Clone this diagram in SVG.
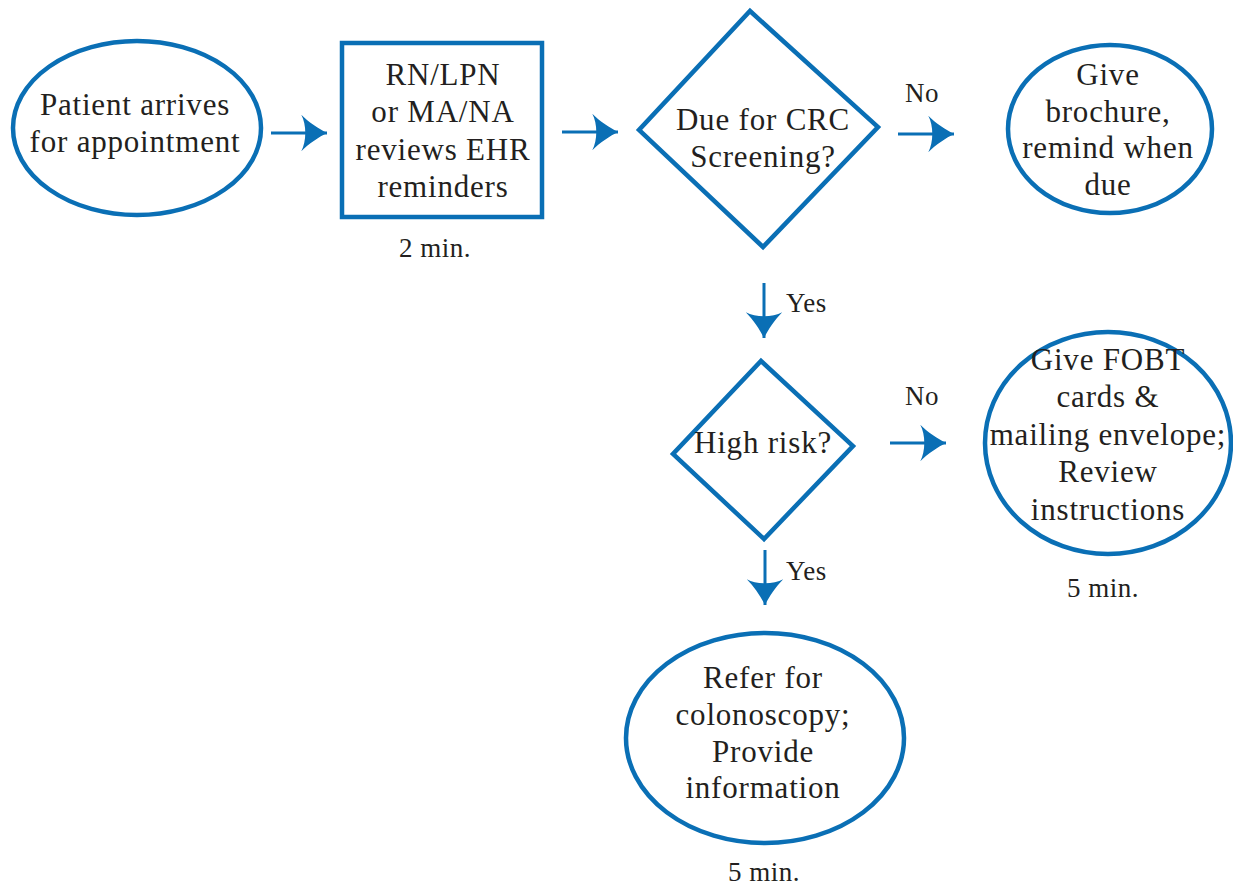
<svg xmlns="http://www.w3.org/2000/svg" width="1233" height="885" viewBox="0 0 1233 885">
<defs>
<style>
.shape{fill:#fff;stroke:#0a6fb5;stroke-width:4.5}
.t{font-family:"Liberation Serif","Times New Roman",serif;font-size:31px;letter-spacing:0.8px;fill:#231f20;text-anchor:middle}
.lbl{font-family:"Liberation Serif","Times New Roman",serif;font-size:27px;letter-spacing:0.5px;fill:#231f20}
.c{stroke:#0a6fb5;stroke-width:3;fill:none}
</style>
<marker id="ah" markerUnits="userSpaceOnUse" markerWidth="30" markerHeight="40" viewBox="-26 -18 28 36" refX="0" refY="0" orient="auto">
<path d="M0,0 C-8,-4 -17,-10 -24,-17 C-19,-8 -19,8 -24,17 C-17,10 -8,4 0,0 Z" fill="#0a6fb5"/>
</marker>
</defs>
<rect width="1233" height="885" fill="#fff"/>
<g id="connectors">
<line class="c" x1="271" y1="133" x2="327" y2="133" marker-end="url(#ah)"/>
<line class="c" x1="562" y1="132" x2="618" y2="132" marker-end="url(#ah)"/>
<line class="c" x1="898" y1="134" x2="954" y2="134" marker-end="url(#ah)"/>
<line class="c" x1="764" y1="283" x2="764" y2="338" marker-end="url(#ah)"/>
<line class="c" x1="890" y1="443" x2="946" y2="443" marker-end="url(#ah)"/>
<line class="c" x1="765" y1="550" x2="765" y2="605" marker-end="url(#ah)"/>
<text class="lbl" x="922" y="102" text-anchor="middle">No</text>
<text class="lbl" x="786" y="312">Yes</text>
<text class="lbl" x="922" y="405" text-anchor="middle">No</text>
<text class="lbl" x="786" y="580">Yes</text>
</g>
<g id="n1">
<ellipse class="shape" cx="137" cy="128" rx="124" ry="87"/>
<text class="t" x="135" y="115">Patient arrives</text>
<text class="t" x="135" y="152">for appointment</text>
</g>
<g id="n2">
<rect class="shape" x="342" y="43" width="200" height="174"/>
<text class="t" x="443" y="85">RN/LPN</text>
<text class="t" x="443" y="122">or MA/NA</text>
<text class="t" x="443" y="160">reviews EHR</text>
<text class="t" x="443" y="197">reminders</text>
<text class="lbl" x="435" y="257" text-anchor="middle">2 min.</text>
</g>
<g id="n3">
<polygon class="shape" points="750,11 878,127 763,247 639,130"/>
<text class="t" x="763" y="130">Due for CRC</text>
<text class="t" x="763" y="167">Screening?</text>
</g>
<g id="n4">
<ellipse class="shape" cx="1110" cy="129" rx="102" ry="84"/>
<text class="t" x="1108" y="85">Give</text>
<text class="t" x="1108" y="122">brochure,</text>
<text class="t" x="1108" y="158">remind when</text>
<text class="t" x="1108" y="195">due</text>
</g>
<g id="n5">
<polygon class="shape" points="761,361 853,446 764,539 673,454"/>
<text class="t" x="763" y="453">High risk?</text>
</g>
<g id="n6">
<ellipse class="shape" cx="1108" cy="443" rx="123" ry="111"/>
<text class="t" x="1108" y="370">Give FOBT</text>
<text class="t" x="1108" y="407">cards &amp;</text>
<text class="t" x="1108" y="445">mailing envelope;</text>
<text class="t" x="1108" y="482">Review</text>
<text class="t" x="1108" y="520">instructions</text>
<text class="lbl" x="1103" y="597" text-anchor="middle">5 min.</text>
</g>
<g id="n7">
<ellipse class="shape" cx="765" cy="738" rx="139" ry="105"/>
<text class="t" x="763" y="688">Refer for</text>
<text class="t" x="763" y="725">colonoscopy;</text>
<text class="t" x="763" y="762">Provide</text>
<text class="t" x="763" y="798">information</text>
<text class="lbl" x="764" y="881" text-anchor="middle">5 min.</text>
</g>
</svg>
